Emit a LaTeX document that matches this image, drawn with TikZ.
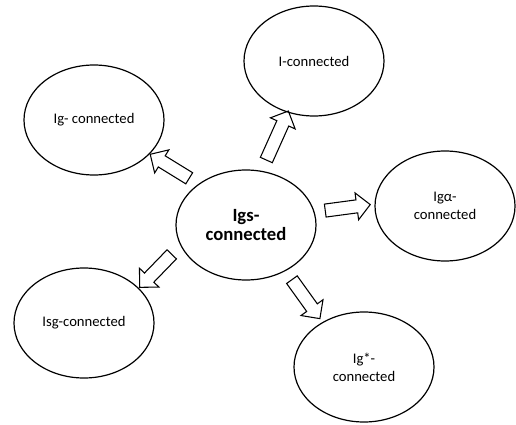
\documentclass[tikz,border=0pt]{standalone}
\usepackage{fontspec}
\setmainfont{Carlito}
\usetikzlibrary{
    shapes.geometric,
    shapes.arrows,
    calc
}
\tikzstyle{conn} = [ellipse, draw, line width=0.9pt, minimum width=105pt, minimum height=82.5pt, inner sep=0, align=center, font=\fontsize{11}{13.5}\selectfont]
\tikzstyle{mainconn} = [conn, font=\bfseries\fontsize{14}{14.3}\selectfont]
\tikzstyle{fatarrow} = [single arrow, draw, line width=0.8pt, inner xsep=0, inner ysep=4.5pt, single arrow head extend=5.25pt, single arrow tip angle=90]

\begin{document}
\begin{tikzpicture}[x=0.75pt, y=-0.75pt]
    \useasboundingbox (0,0) rectangle (516,424);

    \node[mainconn] (Igs) at (246,225) {Igs-\\connected};
    \node[conn] (Ig)    at (94,120)  {Ig- connected};
    \node[conn] (I)     at (314,61)  {I-connected};
    \node[conn] (Igal)  at (445,206) {Igα-\\connected};
    \node[conn] (Isg)   at (84,323)  {Isg-connected};
    \node[conn] (Igst)  at (364,367) {Ig*-\\connected};

    % tails and tips of the block arrows
    \coordinate (tIg)   at (192,180);  \coordinate (hIg)   at (153,156);
    \coordinate (tI)    at (265,163);  \coordinate (hI)    at (287,114);
    \coordinate (tIgal) at (322,211);  \coordinate (hIgal) at (367,205);
    \coordinate (tIsg)  at (174,252);  \coordinate (hIsg)  at (142,285);
    \coordinate (tIgst) at (290,277);  \coordinate (hIgst) at (318,316);

    \foreach \tail / \tip in {tIg/hIg, tI/hI, tIgal/hIgal, tIsg/hIsg, tIgst/hIgst}{
    \path let \p1 = ($(\tip)-(\tail)$), \n1 = {atan2(\y1,\x1)}, \n2 = {veclen(\x1,\y1)} in
        node[fatarrow, minimum height=\n2, rotate=\n1] at ($(\tail)!0.5!(\tip)$) {};
    }
\end{tikzpicture}
\end{document}
